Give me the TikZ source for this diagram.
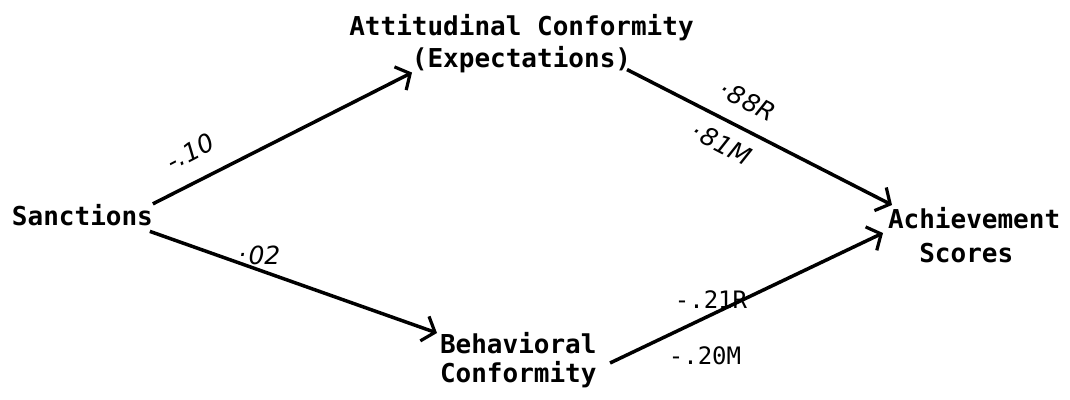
\documentclass[tikz,border=0pt]{standalone}
\usepackage{fontspec}
\newfontfamily\tw{DejaVu Sans Mono}
\newfontfamily\hand{DejaVu Sans}
\usetikzlibrary{arrows.meta}
\newcommand{\rdot}{\raisebox{0.3em}{.}\kern1pt}
\tikzset{
  box/.style={inner sep=0pt, outer sep=0pt, font=\tw\bfseries\fontsize{26}{32}\selectfont},
  coef/.style={inner sep=0pt, font=\hand\itshape\fontsize{25}{30}\selectfont},
  coefm/.style={inner sep=0pt, font=\tw\fontsize{24}{30}\selectfont},
  arr/.style={line width=3.5pt, -{Straight Barb[length=11pt,width=26pt,line width=3.2pt]}}
}
\begin{document}
\begin{tikzpicture}[x=1pt,y=-1pt]
\useasboundingbox (0,0) rectangle (1070,399);
\node[box, anchor=base west] (sanc) at (12,225) {Sanctions};
\node[box, align=center, anchor=north] (att) at (521.5,14) {Attitudinal Conformity\\(Expectations)};
\node[box, align=left, anchor=north west, font=\tw\bfseries\fontsize{26}{29}\selectfont] (beh) at (440,332) {Behavioral\\Conformity};
\node[box, align=left, anchor=north west, font=\tw\bfseries\fontsize{26}{34}\selectfont] (ach) at (888,207) {Achievement\\\phantom{Ac}Scores};

\draw[arr] (sanc.north east) -- ([shift={(-109.5,0)}]att.south);
\draw[arr] ([shift={(105.5,-3)}]att.south) -- ([shift={(4,-2)}]ach.north west);
\draw[arr] ([shift={(-3,6)}]sanc.south east) -- ([shift={(-3,1)}]beh.north west);
\draw[arr] ([shift={(13.5,31)}]beh.north east) -- ([shift={(-5,26)}]ach.north west);

\node[coef, rotate=27.4] (l1) at (190,152) {-\kern1pt.10};
\node[coef, rotate=-27.5] (l2) at (748,101) {\rdot 88R};
\node[coef, rotate=-27.5] (l3) at (722,144) {\rdot 81M};
\node[coef] (l4) at (260,255) {\rdot 02};
\node[coefm] (l5) at (711,300) {-.21R};
\node[coefm] (l6) at (705,356) {-.20M};
\end{tikzpicture}
\end{document}
